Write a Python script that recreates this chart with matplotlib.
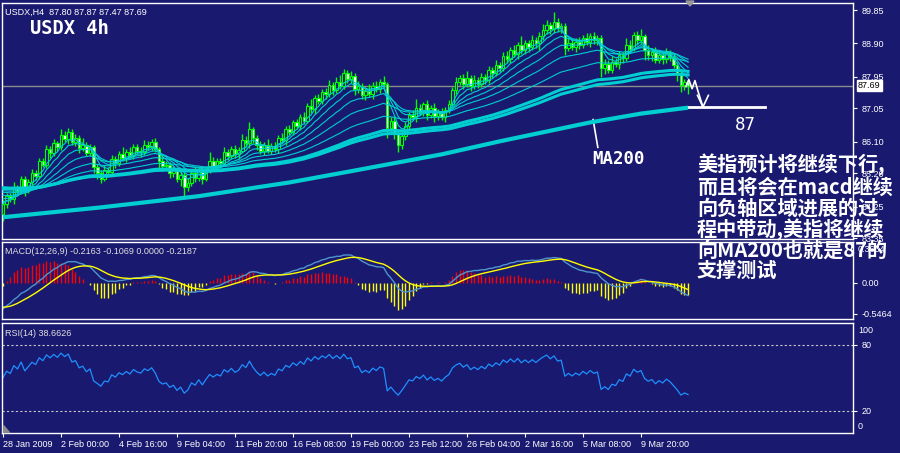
import numpy as np
import matplotlib
matplotlib.use('Agg')
import matplotlib.pyplot as plt
from matplotlib.patches import Polygon

BG = '#191970'
CYAN = '#00CED1'
LIME = '#00FF00'

# H4 closes (bar 0 = 28 Jan 2009)
closes = [
    84.32, 84.55, 84.48, 84.80, 84.70, 85.03, 84.74, 84.95, 85.20, 85.12,
    85.55, 85.45, 85.88, 85.78, 86.05, 85.95, 86.30, 86.18, 86.39, 86.10,
    86.20, 85.92, 86.02, 85.79, 85.95, 85.37, 85.22, 85.05, 85.30, 85.25,
    85.62, 85.50, 85.74, 85.65, 85.82, 85.71, 85.95, 85.85, 85.80, 86.02,
    85.95, 86.10, 85.90, 85.54, 85.40, 85.45, 85.22, 85.30, 85.03, 85.15,
    84.80, 84.92, 85.20, 85.08, 85.31, 85.05, 85.30, 85.54, 85.42, 85.55,
    85.48, 85.80, 85.70, 85.90, 85.74, 85.85, 86.16, 86.05, 86.45, 86.20,
    86.00, 85.85, 86.02, 85.85, 85.98, 85.90, 86.22, 86.15, 86.45, 86.38,
    86.65, 86.55, 86.80, 86.70, 87.13, 87.02, 87.35, 87.25, 87.52, 87.45,
    87.72, 87.58, 87.81, 87.70, 88.06, 87.90, 87.98, 87.60, 87.70, 87.42,
    87.55, 87.45, 87.70, 87.60, 87.81, 87.75, 86.50, 86.70, 86.35, 86.02,
    86.25, 86.55, 86.87, 86.80, 87.07, 86.95, 87.16, 86.87, 87.05, 86.84,
    86.96, 86.80, 87.01, 87.16, 87.58, 87.80, 87.92, 87.75, 87.92, 87.70,
    87.86, 87.75, 87.95, 87.85, 88.15, 88.05, 88.29, 88.20, 88.55, 88.45,
    88.72, 88.60, 88.86, 88.70, 88.90, 88.80, 89.00, 88.90, 89.10, 89.28,
    89.42, 89.30, 89.51, 89.34, 89.40, 88.77, 88.92, 88.80, 88.95, 88.86,
    89.05, 88.94, 89.11, 89.00, 89.06, 88.20, 88.32, 88.15, 88.38, 88.30,
    88.57, 88.48, 88.86, 88.75, 89.14, 89.00, 89.10, 88.72, 88.57, 88.65,
    88.43, 88.57, 88.45, 88.62, 88.50, 88.29, 88.06, 87.72, 87.80, 87.69,
]
first_open = 84.05

# upper / lower wicks beyond the body, in hundredths
wick_up = [
    12, 9, 8, 14, 6, 9, 10, 8, 12, 9,
    8, 10, 14, 9, 12, 8, 15, 10, 9, 8,
    12, 9, 18, 8, 9, 6, 10, 8, 14, 9,
    10, 8, 9, 20, 8, 12, 9, 8, 10, 14,
    9, 8, 12, 6, 15, 9, 8, 10, 9, 12,
    8, 14, 9, 18, 8, 10, 9, 26, 12, 8,
    10, 14, 9, 8, 12, 9, 15, 10, 22, 8,
    9, 12, 8, 15, 9, 10, 8, 14, 9, 12,
    8, 10, 9, 14, 8, 18, 9, 12, 8, 10,
    15, 9, 12, 20, 10, 8, 14, 9, 12, 8,
    10, 18, 9, 12, 8, 15, 6, 9, 12, 8,
    18, 10, 9, 14, 24, 10, 8, 12, 9, 14,
    8, 10, 9, 12, 8, 15, 9, 12, 20, 9,
    14, 8, 10, 9, 12, 8, 15, 9, 10, 14,
    9, 12, 8, 26, 10, 9, 14, 8, 12, 18,
    15, 9, 28, 12, 9, 8, 14, 10, 9, 12,
    8, 15, 9, 12, 8, 9, 14, 10, 15, 9,
    12, 8, 18, 14, 9, 10, 20, 8, 12, 9,
    14, 10, 8, 15, 9, 12, 8, 10, 9, 7,
]
wick_dn = [
    22, 12, 9, 15, 8, 10, 18, 9, 8, 12,
    9, 8, 10, 14, 9, 12, 8, 10, 15, 9,
    12, 14, 8, 9, 10, 15, 18, 12, 8, 9,
    10, 14, 8, 9, 12, 8, 9, 10, 14, 8,
    9, 12, 8, 18, 14, 10, 15, 12, 9, 20,
    26, 9, 8, 12, 10, 15, 8, 9, 12, 14,
    9, 8, 12, 10, 9, 14, 8, 9, 12, 15,
    14, 9, 12, 8, 10, 9, 12, 8, 14, 9,
    10, 8, 12, 9, 8, 10, 14, 9, 8, 12,
    9, 15, 8, 10, 9, 12, 14, 18, 10, 9,
    12, 8, 14, 9, 12, 8, 28, 15, 18, 22,
    12, 9, 10, 8, 14, 9, 12, 15, 10, 18,
    12, 9, 14, 10, 8, 12, 9, 14, 10, 15,
    9, 12, 8, 10, 9, 14, 8, 12, 9, 10,
    12, 8, 14, 9, 10, 15, 8, 12, 18, 9,
    10, 14, 9, 12, 15, 20, 10, 9, 14, 12,
    9, 10, 15, 12, 14, 26, 18, 10, 9, 8,
    12, 14, 9, 10, 8, 14, 12, 28, 15, 18,
    10, 9, 14, 12, 10, 9, 22, 20, 15, 22,
]

# MA200 read at a few bars
ma200_bars = [0, 27, 54, 79, 96, 121, 137, 162, 176, 189]
ma200_vals = [83.95, 84.23, 84.55, 84.94, 85.26, 85.74, 86.11, 86.65, 86.90, 87.07]

# EMA ribbon: period -> starting level at the left edge
ribbon_thin = {5: 84.35, 8: 84.40, 13: 84.50, 21: 84.60, 34: 84.68, 55: 84.72}
ribbon_thick = {89: 84.78, 100: 84.80}

macd_seed = (84.25, 84.75, -0.42)   # ema12, ema26, signal at bar 0
rsi_seed = (0.05, 0.07)             # avg gain, avg loss at bar 0

date_ticks = [0, 16, 32, 48, 64, 80, 96, 112, 128, 144, 160, 176]
date_labels = ['28 Jan 2009', '2 Feb 00:00', '4 Feb 16:00', '9 Feb 04:00',
               '11 Feb 20:00', '16 Feb 08:00', '19 Feb 00:00', '23 Feb 12:00',
               '26 Feb 04:00', '2 Mar 16:00', '5 Mar 08:00', '9 Mar 20:00']
price_ticks = [89.85, 88.90, 87.95, 87.05, 86.10, 85.20, 84.25, 83.35]
last_price = 87.69

note_lines = ['美指预计将继续下行,', '而且将会在macd继续', '向负轴区域进展的过',
              '程中带动,美指将继续', '向MA200也就是87的', '支撑测试']

SMALL = dict(family='Liberation Sans', size=6.5)


def ema(vals, period, seed):
    a = 2.0 / (period + 1)
    out = []
    e = seed
    for v in vals:
        e = e + a * (v - e)
        out.append(e)
    return np.array(out)


c = np.array(closes)
o = np.concatenate([[first_open], c[:-1]])
hi = np.maximum(o, c) + np.array(wick_up) / 100
lo = np.minimum(o, c) - np.array(wick_dn) / 100
x = np.arange(len(c))

macd = ema(c, 12, macd_seed[0]) - ema(c, 26, macd_seed[1])
sig = ema(macd, 9, macd_seed[2])
hist = 2 * (macd - sig)

# Wilder RSI
d = np.diff(np.concatenate([[first_open], c]))
g, l = rsi_seed
rsi = []
for v in d:
    g = (g * 13 + max(v, 0)) / 14
    l = (l * 13 + max(-v, 0)) / 14
    rsi.append(100 - 100 / (1 + g / l))

fig = plt.figure(figsize=(9, 4.53), dpi=100, facecolor=BG)


def pane(top, bottom):
    ax = fig.add_axes([2 / 900, (453 - bottom) / 453, 851 / 900, (bottom - top) / 453])
    ax.set_facecolor(BG)
    for s in ax.spines.values():
        s.set_color('white')
        s.set_linewidth(1)
    ax.set_xlim(-0.276, 234.5)
    ax.tick_params(colors='white', labelsize=6.5, length=3, width=0.8)
    ax.yaxis.tick_right()
    return ax


ax1 = pane(3, 239)
ax2 = pane(242, 319)
ax3 = pane(323, 433)

# ---- price pane
ax1.set_ylim(83.33, 90.05)
ax1.axhline(last_price, color='#8c8c8c', lw=1, zorder=1)
ax1.vlines(x, lo, hi, color=LIME, lw=1, zorder=2)
bull = c >= o
ax1.bar(x, np.maximum(np.abs(c - o), 0.012), bottom=np.minimum(o, c), width=0.7,
        color=np.where(bull, BG, 'white'), edgecolor=LIME, linewidth=0.8, zorder=3)
for p, s in ribbon_thin.items():
    ax1.plot(x, ema(c, p, s), color=CYAN, lw=0.8, zorder=4)
for p, s in ribbon_thick.items():
    ax1.plot(x, ema(c, p, s), color=CYAN, lw=2.2, zorder=4)
ax1.plot(ma200_bars, ma200_vals, color=CYAN, lw=3, zorder=4, solid_capstyle='butt')
ax1.set_yticks(price_ticks)
ax1.set_yticklabels(['%.2f' % t for t in price_ticks], **SMALL)
ax1.set_xticks([])
ax1.text(1.006, (last_price - 83.33) / (90.05 - 83.33), '%.2f' % last_price,
         transform=ax1.transAxes, va='center', ha='left', color='black',
         bbox=dict(facecolor='white', edgecolor='white', pad=0.8), **SMALL)

# drawings on the price pane
ax1.plot([162.8, 164.1], [86.73, 85.94], color='white', lw=1.2)
ax1.text(162.5, 85.62, 'MA200', color='white', size=12.5, family='DejaVu Sans Mono',
         weight='bold', va='center', ha='left')
ax1.plot([188.7, 210.2], [87.10, 87.10], color='white', lw=2)
ax1.text(201.9, 86.59, '87', color='white', size=12.5, family='DejaVu Sans Mono',
         va='center', ha='left')
ax1.plot([188.4, 189.2, 190.1, 190.9, 191.7, 193.1],
         [87.67, 87.87, 87.61, 87.84, 87.55, 87.09], color='white', lw=1.2, zorder=6)
ax1.plot([191.6, 193.1, 194.6], [87.42, 87.09, 87.42], color='white', lw=1.2, zorder=6)

# ---- MACD pane
ax2.set_ylim(-0.635, 0.723)
ax2.vlines(x, 0, hist, colors=np.where(hist >= 0, '#FF0000', '#FFFF00'), lw=1)
ax2.plot(x, macd, color='#4F94CD', lw=1)
ax2.plot(x, sig, color='#FFFF00', lw=1)
ax2.set_xticks([])
ax2.set_yticks([0, -0.5464])
ax2.set_yticklabels(['0.00', '-0.5464'], **SMALL)
ax2.text(1.006, 0.9, '0.3634', transform=ax2.transAxes, va='center', color='white', **SMALL)

# ---- RSI pane
ax3.set_ylim(0, 100)
ax3.plot(x, rsi, color='#1E90FF', lw=0.9)
for lvl in (80, 20):
    ax3.axhline(lvl, color='#c8c8c8', lw=0.8, ls=(0, (2, 2)))
ax3.set_yticks([80, 20])
ax3.set_yticklabels(['80', '20'], **SMALL)
ax3.text(1.006, 0.935, '100', transform=ax3.transAxes, va='center', color='white', **SMALL)
ax3.text(1.006, 0.055, '0', transform=ax3.transAxes, va='center', color='white', **SMALL)
ax3.set_xticks(date_ticks)
ax3.set_xticklabels(date_labels, ha='left', **SMALL)
ax3.tick_params(axis='x', pad=2)

# ---- header texts
fig.text(5 / 900, 1 - 12 / 453, 'USDX,H4  87.80 87.87 87.47 87.69', color='white', va='center', **SMALL)
fig.text(30 / 900, 1 - 28 / 453, 'USDX 4h', color='white', size=13.5, weight='bold',
         family='DejaVu Sans Mono', va='center')
fig.text(5 / 900, 1 - 252 / 453, 'MACD(12,26,9) -0.2163 -0.1069 0.0000 -0.2187', color='#e0e0e0',
         va='center', **SMALL)
fig.text(5 / 900, 1 - 333 / 453, 'RSI(14) 38.6626', color='#e0e0e0', va='center', **SMALL)

for line, yy in zip(note_lines, [165, 187, 208, 230, 250, 270]):
    fig.text(697 / 900, 1 - yy / 453, line, color='white', size=14.5, weight='bold',
             family=['Noto Sans CJK SC', 'DejaVu Sans'], va='center', ha='left')

fig.add_artist(Polygon([[686 / 900, 1 - 1 / 453], [694 / 900, 1 - 1 / 453], [690 / 900, 1 - 6 / 453]],
                       closed=True, transform=fig.transFigure, color='#9a9a9a'))
fig.add_artist(Polygon([[3 / 900, 1 - 425 / 453], [3 / 900, 1 - 432 / 453], [9 / 900, 1 - 432 / 453]],
                       closed=True, transform=fig.transFigure, color='#8a8a8a'))

fig.savefig('out.png', dpi=100, facecolor=BG)
